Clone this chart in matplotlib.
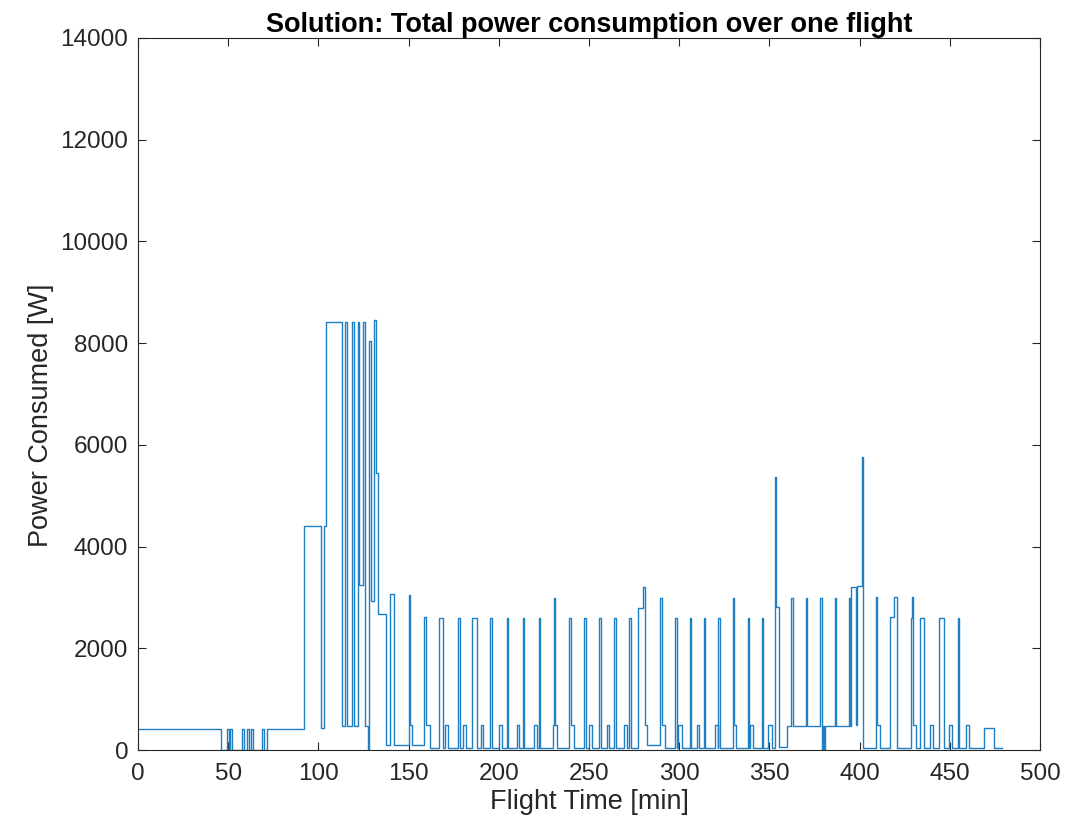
import matplotlib
matplotlib.use("Agg")
import matplotlib.pyplot as plt

# step breakpoints: time [min] where a level starts, power [W]
t_min = [0, 46, 49.5, 50.3, 51.0, 52.0, 57.5, 58.7, 60.4, 61.5, 62.6, 64.0, 68.8, 70.0, 71.4,
         92.0, 101.3, 103.3, 104.2, 112.9, 114.8, 116.0, 118.4, 119.7, 122.1, 122.6, 124.9, 126.0,
         127.5, 128.2, 129.2, 130.8, 132.0, 133.0, 137.5, 139.5, 141.9, 150.3, 150.8, 152.0,
         158.7, 159.4, 161.8, 166.9, 169.2, 170.2, 171.7, 177.6, 178.3, 180.3, 181.6, 185.0, 187.7,
         190.0, 191.4, 195.3, 196.2, 200.1, 201.6, 204.4, 205.2, 209.9, 211.3, 213.2, 214.0,
         219.7, 221.3, 222.1, 222.8, 229.8, 230.8, 231.3, 232.0, 239.1, 239.8, 241.7, 247.4, 248.2,
         250.0, 251.5, 255.7, 256.4, 259.8, 261.2, 264.0, 264.8, 269.4, 271.2, 272.2, 273.1,
         277.3, 280.0, 281.1, 282.0, 289.4, 290.3, 292.1, 297.7, 298.6, 299.5, 301.3, 306.0, 306.7,
         309.7, 311.1, 313.7, 314.5, 319.8, 321.3, 321.7, 322.6, 329.6, 330.5, 331.5, 337.9, 338.7,
         339.2, 341.1, 345.7, 346.5, 349.4, 351.2, 353.1, 353.6, 355.5, 360.0, 362.1, 362.8,
         370.0, 370.7, 378.2, 378.9, 379.6, 380.2, 380.8, 386.1, 386.8, 394.0, 394.7, 395.2,
         397.8, 398.7, 401.3, 401.9, 409.1, 409.8, 411.3, 416.9, 419.3, 420.5, 428.5, 429.0,
         429.8, 431.3, 433.5, 435.7, 439.0, 440.9, 443.8, 446.8, 449.4, 451.0, 454.5, 455.3,
         459.0, 460.9, 469.1, 474.5, 478.7]
power_w = [420, 0, 420, 0, 420, 0, 420, 0, 420, 0, 420, 0, 420, 0, 420,
           4400, 440, 4400, 8420, 470, 8420, 470, 8420, 470, 8420, 3240, 8420, 470,
           0, 8050, 2920, 8450, 5450, 2670, 100, 3060, 100, 3050, 500, 90,
           2620, 490, 40, 2600, 40, 490, 40, 2600, 40, 490, 40, 2600, 40,
           490, 40, 2600, 40, 490, 40, 2600, 40, 490, 40, 2600, 40,
           490, 40, 2600, 40, 490, 2980, 490, 40, 2600, 490, 40, 2600, 40,
           490, 40, 2600, 40, 490, 40, 2600, 40, 490, 40, 2600, 40,
           2800, 3210, 490, 100, 2980, 490, 40, 2600, 40, 490, 40, 2600, 40,
           490, 40, 2600, 40, 490, 40, 2600, 40, 2980, 490, 40, 2600, 40,
           490, 40, 2600, 40, 490, 40, 5360, 2820, 60, 470, 2980, 470,
           2980, 470, 2980, 0, 470, 0, 470, 2980, 470, 2980, 470, 3210,
           490, 3230, 5770, 40, 3000, 490, 40, 2610, 3010, 40, 2600, 3000,
           490, 40, 2600, 40, 490, 40, 2600, 40, 490, 40, 2600, 40,
           490, 40, 430, 40, 40]

x_ticks = [0, 50, 100, 150, 200, 250, 300, 350, 400, 450, 500]
y_ticks = [0, 2000, 4000, 6000, 8000, 10000, 12000, 14000]

plt.rcParams['font.family'] = ['Liberation Sans', 'DejaVu Sans']

fig = plt.figure(figsize=(10.81, 8.24), dpi=100)
ax = fig.add_axes([0.1277, 0.0898, 0.8344, 0.8641])

ax.plot(t_min, power_w, drawstyle='steps-post', color='#1f7fc4', lw=1.0)

ax.set_xlim(0, 500)
ax.set_ylim(0, 14000)
ax.set_xticks(x_ticks)
ax.set_yticks(y_ticks)
ax.tick_params(direction='in', top=True, right=True, length=6, width=0.8,
               labelsize=17.5, colors='#262626')
ax.tick_params(axis='x', pad=9)
ax.tick_params(axis='y', pad=7)
for s in ax.spines.values():
    s.set_color('#262626')
    s.set_linewidth(0.8)

ax.set_title('Solution: Total power consumption over one flight', fontsize=19.5,
             fontweight='bold', pad=4)
ax.set_xlabel('Flight Time [min]', fontsize=19.5, color='#262626', labelpad=3)
ax.set_ylabel('Power Consumed [W]', fontsize=19.5, color='#262626')
ax.yaxis.set_label_coords(-0.093, 0.47)

fig.savefig('out.png', dpi=100)
